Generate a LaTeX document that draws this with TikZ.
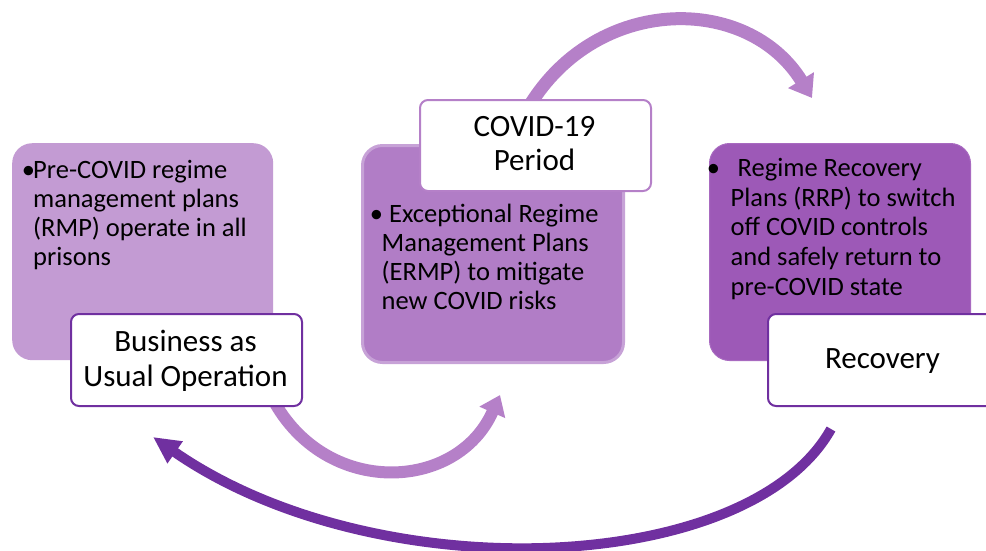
\documentclass[tikz,border=0pt]{standalone}
\usepackage{fontspec}
\setmainfont{Carlito}
\usetikzlibrary{arrows.meta,calc}
\definecolor{fillA}{HTML}{C39BD3}
\definecolor{fillB}{HTML}{B17DC6}
\definecolor{edgeB}{HTML}{C7A2D7}
\definecolor{fillC}{HTML}{9D59B7}
\definecolor{edgeC}{HTML}{A86AC0}
\definecolor{deep}{HTML}{7030A0}
\definecolor{soft}{HTML}{B580C8}
\pgfdeclarelayer{bg}
\pgfdeclarelayer{arr}
\pgfsetlayers{bg,arr,main}
\begin{document}
\begin{tikzpicture}[x=1pt,y=-1pt,
  panel/.style={rounded corners=20pt, minimum width=261pt, minimum height=217pt, anchor=north west, inner sep=0pt},
  tag/.style={draw, fill=white, line width=2pt, rounded corners=8pt, minimum width=231pt, minimum height=92pt, anchor=north west, inner sep=0pt},
  body/.style={anchor=base west, inner sep=0pt},
  bul/.style={anchor=base, inner sep=0pt},
  ttl/.style={anchor=base, inner sep=0pt},
  flow/.style={line width=#1}
]
\useasboundingbox (0,0) rectangle (986,550);

\begin{pgfonlayer}{bg}
\node[panel, fill=fillA] (box1) at (12,143) {};
\node[panel, fill=fillB, draw=edgeB, line width=3pt] (box2) at (361,144) {};
\node[panel, fill=fillC, draw=edgeC, line width=1pt] (box3) at (709,143) {};
\end{pgfonlayer}

% panel texts
\node[bul] (b1) at (28.5,178) {\fontsize{26.5}{29}\selectfont •};
\node[body] (t1) at (33,178) {\parbox[t]{235pt}{\fontsize{26.5}{29}\selectfont\raggedright
Pre-COVID regime\\management plans\\(RMP) operate in all\\prisons}};

\node[bul] (b2) at (376.5,222) {\fontsize{26.5}{29.3}\selectfont •};
\node[body] (t2) at (381.5,222) {\parbox[t]{235pt}{\fontsize{26.5}{29.3}\selectfont\raggedright
\hspace*{7.4pt}Exceptional Regime\\Management Plans\\(ERMP) to mitigate\\new COVID risks}};

\node[bul] (b3) at (713.5,176.7) {\fontsize{26.5}{29.6}\selectfont •};
\node[body] (t3) at (730.5,176.7) {\parbox[t]{240pt}{\fontsize{26.5}{29.6}\selectfont\raggedright
\hspace*{7pt}Regime Recovery\\Plans (RRP) to switch\\off COVID controls\\and safely return to\\pre-COVID state}};

% label boxes
\node[tag, draw=deep] (lab1) at (70,313) {};
\node[tag, draw=soft, minimum height=91pt] (lab2) at (419,99) {};
\node[tag, draw=deep] (lab3) at (767,313) {};

\node[ttl] (l1) at (185.5,351.7) {\parbox[t]{231pt}{\fontsize{31}{35}\selectfont\centering Business as\\Usual Operation}};
\node[ttl] (l2) at (534.5,136.7) {\parbox[t]{231pt}{\fontsize{31}{33.3}\selectfont\centering COVID-19\\Period}};
\node[ttl] (l3) at (882.5,368.3) {\fontsize{31}{35}\selectfont Recovery};

% connectors
\coordinate (s2) at ($(lab2.north)+(-6.5,7.5)$);
\coordinate (e2) at (812,98);
\coordinate (s1) at ($(lab1.south east)+(-30.7,-8.8)$);
\coordinate (e1) at (500,395);
\coordinate (s3) at ($(lab3.south)+(-52.5,22)$);
\coordinate (e3) at (153,437);

\begin{pgfonlayer}{arr}
\draw[soft, flow=13pt, -{Triangle[width=29pt,length=21pt]}]
  (s2) .. controls (597,-6) and (748,-6) .. (e2);
\draw[soft, flow=12pt, -{Triangle[width=27pt,length=19pt]}]
  (s1) .. controls (325,498) and (457,492) .. (e1);
\draw[deep, flow=10pt, -{Triangle[width=25pt,length=27pt]}]
  (s3) .. controls (748.4,576.6) and (374.4,590.9) .. (e3);
\end{pgfonlayer}
\end{tikzpicture}
\end{document}
